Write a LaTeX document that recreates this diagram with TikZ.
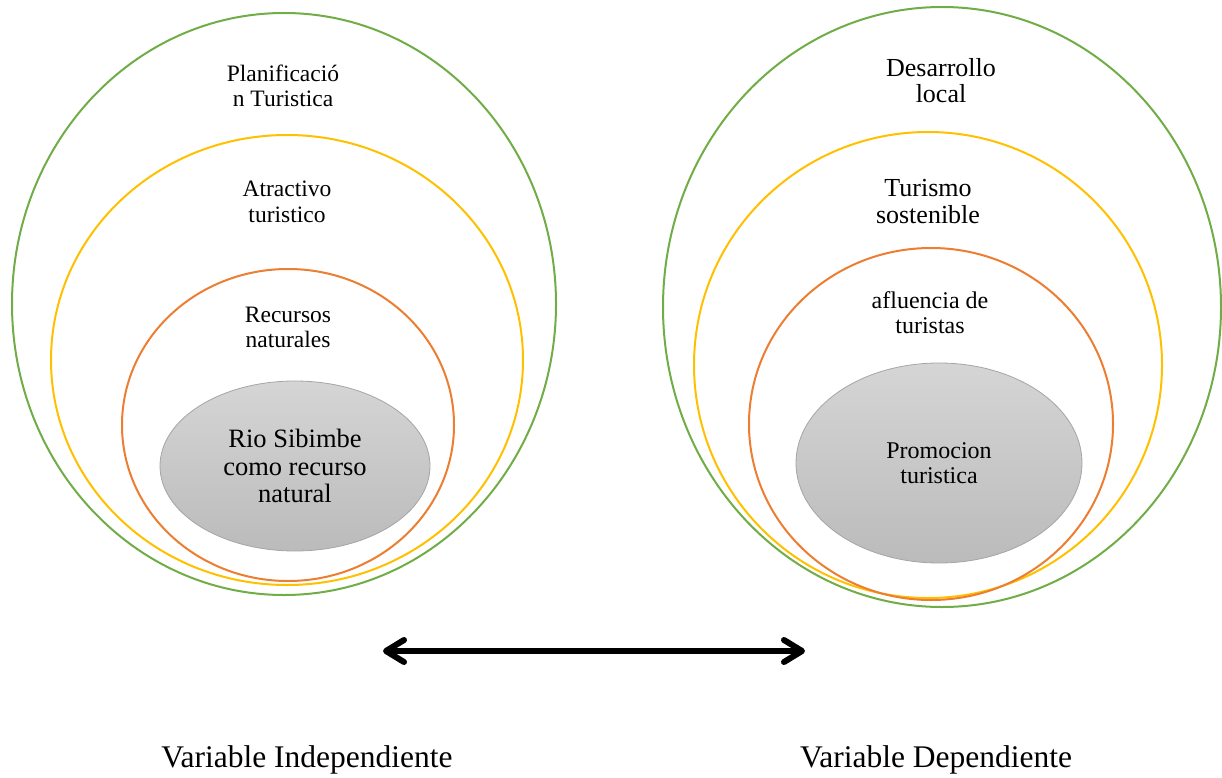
\documentclass[tikz,border=0pt]{standalone}
\usepackage{fontspec}
\setmainfont{Liberation Serif}
\usetikzlibrary{shapes.geometric,arrows.meta}
\definecolor{ringgreen}{HTML}{70AD47}
\definecolor{ringyellow}{HTML}{FFC000}
\definecolor{ringorange}{HTML}{ED7D31}
\definecolor{corefillA}{HTML}{D5D5D5}
\definecolor{corefillB}{HTML}{BBBBBB}
\definecolor{coreline}{HTML}{A5A5A5}
\begin{document}
\begin{tikzpicture}[x=1pt,y=-1pt,
  ring/.style={draw=#1, ellipse, line width=2pt, inner sep=0pt, outer sep=0pt},
  core/.style={ellipse, draw=coreline, line width=0.8pt, top color=corefillA, bottom color=corefillB, inner sep=0pt, outer sep=0pt, align=center},
  lbl/.style={align=center, anchor=base, inner sep=0pt},
  smallfont/.style={font=\fontsize{23.5}{25}\selectfont},
  midfont/.style={font=\fontsize{26}{26.5}\selectfont},
  bigfont/.style={font=\fontsize{31.5}{34}\selectfont},
  bothtips/.style={line width=6pt, {Straight Barb[length=18pt,width=22pt,round]}-{Straight Barb[length=18pt,width=22pt,round]}}
  ]
\useasboundingbox (0,0) rectangle (1222,778);

% left group
\node[ring=ringgreen, minimum width=544pt, minimum height=582pt] (LG) at (284,304) {};
\node[ring=ringyellow, minimum width=472pt, minimum height=450pt] (LY) at (287,360) {};
\node[ring=ringorange, minimum width=332pt, minimum height=312pt] (LO) at (288,425) {};
\node[core, minimum width=270pt, minimum height=170pt, font=\fontsize{26.5}{27.5}\selectfont] (LC) at (295,466) {Rio Sibimbe\\como recurso\\natural};
\node[lbl, smallfont] (LGt) at (283,107) {Planificació\\n Turistica};
\node[lbl, smallfont] (LYt) at (287,222) {Atractivo\\turistico};
\node[lbl, smallfont] (LOt) at (288,347) {Recursos\\naturales};

% right group
\node[ring=ringgreen, minimum width=558pt, minimum height=600pt] (RG) at (942,307) {};
\node[ring=ringyellow, minimum width=468pt, minimum height=466pt] (RY) at (928,365) {};
\node[ring=ringorange, minimum width=364pt, minimum height=352pt] (RO) at (931,424) {};
\node[core, minimum width=286pt, minimum height=200pt, font=\fontsize{24}{25}\selectfont] (RC) at (939,463) {Promocion\\turistica};
\node[lbl, midfont] (RGt) at (941,103) {Desarrollo\\local};
\node[lbl, midfont] (RYt) at (928,223) {Turismo\\sostenible};
\node[lbl, font=\fontsize{24}{25}\selectfont] (ROt) at (930,333) {afluencia de\\turistas};

% arrow
\coordinate (AL) at (383,651);
\coordinate (AR) at (805,651);
\draw[bothtips] (AL) -- (AR);

% captions
\node[anchor=base, inner sep=0pt, bigfont] (VI) at (307,767) {Variable Independiente};
\node[anchor=base, inner sep=0pt, bigfont] (VD) at (936,767) {Variable Dependiente};
\end{tikzpicture}
\end{document}
